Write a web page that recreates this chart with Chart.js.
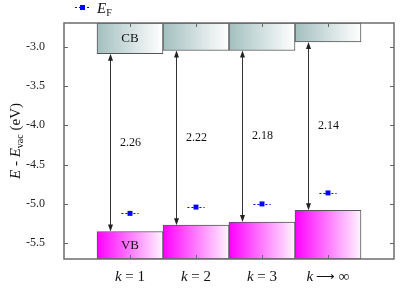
<!DOCTYPE html>
<html>
<head>
<meta charset="utf-8">
<script src="https://cdn.jsdelivr.net/npm/chart.js@4.4.0/dist/chart.umd.min.js"></script>
<style>
  html, body { margin: 0; padding: 0; background: #fff; }
  #wrap { width: 415px; height: 292px; position: relative; }
  #fontProbe { position: absolute; left: -999px; top: 0; font-family: "Liberation Serif"; }
</style>
</head>
<body>
<span id="fontProbe">E <i>k</i> 0123</span>
<div id="wrap"><canvas id="bandChart"></canvas></div>
<script>
// ==========================================
// DATA
// ==========================================
const kLabels = ["1", "2", "3", "\u221E"];
const kPositions = [1, 2, 3, 4];
const cbEdge = [-3.09, -3.05, -3.05, -2.94];
const vbEdge = [-5.35, -5.27, -5.23, -5.08];
const gapLabels = ["2.26", "2.22", "2.18", "2.14"];
const fermiLevel = [-5.12, -5.04, -5.0, -4.86];
const yTickValues = [-5.5, -5.0, -4.5, -4.0, -3.5, -3.0];

const Y_MIN = -5.7;
const Y_MAX = -2.7;
const SERIF = '"Liberation Serif", "Times New Roman", serif';
const FERMI_BLUE = "#0000ff";

// ==========================================
// HELPERS
// ==========================================
function boxGradient(ctx, leftColor, rightColor) {
  const chart = ctx.chart;
  if (!chart.chartArea || ctx.dataIndex === undefined) return leftColor;
  const xs = chart.scales.x;
  const xv = kPositions[ctx.dataIndex];
  const x0 = xs.getPixelForValue(xv - 0.5);
  const x1 = xs.getPixelForValue(xv + 0.5);
  const g = chart.ctx.createLinearGradient(x0, 0, x1, 0);
  g.addColorStop(0, leftColor);
  g.addColorStop(1, rightColor);
  return g;
}

// draw a run of [text, font, dy] pieces starting at x
function drawPieces(c, pieces, x, y) {
  pieces.forEach((p) => {
    c.font = p[1];
    c.fillText(p[0], x, y + (p[2] || 0));
    x += c.measureText(p[0]).width;
  });
}
function piecesWidth(c, pieces) {
  let w = 0;
  pieces.forEach((p) => {
    c.font = p[1];
    w += c.measureText(p[0]).width;
  });
  return w;
}

// ==========================================
// PLUGIN: arrows, labels, frame, ticks
// ==========================================
const bandPlugin = {
  id: "bandPlugin",
  beforeDatasetsDraw(chart) {
    const c = chart.ctx;
    const xs = chart.scales.x;
    const ys = chart.scales.y;
    // Fermi level horizontal dotted bars
    c.save();
    c.strokeStyle = FERMI_BLUE;
    c.lineWidth = 1;
    c.setLineDash([2, 2]);
    kPositions.forEach((x, i) => {
      const py = Math.round(ys.getPixelForValue(fermiLevel[i])) + 0.5;
      c.beginPath();
      c.moveTo(xs.getPixelForValue(x - 0.13), py);
      c.lineTo(xs.getPixelForValue(x + 0.13), py);
      c.stroke();
    });
    c.restore();
  },
  afterDatasetsDraw(chart) {
    const c = chart.ctx;
    const xs = chart.scales.x;
    const ys = chart.scales.y;
    c.save();
    // gap arrows
    kPositions.forEach((x, i) => {
      const ax = Math.round(xs.getPixelForValue(x - 0.3)) + 0.5;
      const yTop = ys.getPixelForValue(cbEdge[i]);
      const yBot = ys.getPixelForValue(vbEdge[i]);
      c.strokeStyle = "#333";
      c.fillStyle = "#222";
      c.lineWidth = 1;
      c.beginPath();
      c.moveTo(ax, yTop + 4);
      c.lineTo(ax, yBot - 4);
      c.stroke();
      c.beginPath();
      c.moveTo(ax, yTop);
      c.lineTo(ax - 2.5, yTop + 7);
      c.lineTo(ax + 2.5, yTop + 7);
      c.closePath();
      c.fill();
      c.beginPath();
      c.moveTo(ax, yBot);
      c.lineTo(ax - 2.5, yBot - 7);
      c.lineTo(ax + 2.5, yBot - 7);
      c.closePath();
      c.fill();
      // gap value
      c.fillStyle = "#111";
      c.font = "12px " + SERIF;
      c.textAlign = "left";
      c.textBaseline = "middle";
      c.fillText(gapLabels[i], ax + 9.5, ys.getPixelForValue((cbEdge[i] + vbEdge[i]) / 2));
    });
    // CB / VB tags in first column
    c.fillStyle = "#111";
    c.font = "13px " + SERIF;
    c.textAlign = "center";
    c.textBaseline = "middle";
    const x1 = xs.getPixelForValue(kPositions[0]);
    c.fillText("CB", x1, (ys.getPixelForValue(Y_MAX) + ys.getPixelForValue(cbEdge[0])) / 2);
    c.fillText("VB", x1, (ys.getPixelForValue(Y_MIN) + ys.getPixelForValue(vbEdge[0])) / 2);
    c.restore();
  },
  afterDraw(chart) {
    const c = chart.ctx;
    const a = chart.chartArea;
    const xs = chart.scales.x;
    const ys = chart.scales.y;
    c.save();
    // frame
    c.strokeStyle = "#6c6c6c";
    c.lineWidth = 1.5;
    c.strokeRect(a.left, a.top, a.right - a.left, a.bottom - a.top);
    // inward ticks
    c.lineWidth = 1;
    c.strokeStyle = "#666";
    yTickValues.forEach((v) => {
      const py = Math.round(ys.getPixelForValue(v)) + 0.5;
      c.beginPath();
      c.moveTo(a.left, py);
      c.lineTo(a.left + 4, py);
      c.moveTo(a.right, py);
      c.lineTo(a.right - 4, py);
      c.stroke();
    });
    kPositions.forEach((v) => {
      const px = Math.round(xs.getPixelForValue(v)) + 0.5;
      c.beginPath();
      c.moveTo(px, a.bottom);
      c.lineTo(px, a.bottom - 4);
      c.moveTo(px, a.top);
      c.lineTo(px, a.top + 4);
      c.stroke();
    });

    // x category labels: k = n
    c.fillStyle = "#111";
    c.textAlign = "left";
    c.textBaseline = "alphabetic";
    kPositions.forEach((v, i) => {
      const sep = kLabels[i] === "\u221E" ? " \u27F6 " : " = ";
      const pieces = [
        ["k", "italic 15px " + SERIF],
        [sep, (kLabels[i] === "\u221E" ? "13px " : "15px ") + SERIF],
        [kLabels[i], "15px " + SERIF],
      ];
      const w = piecesWidth(c, pieces);
      drawPieces(c, pieces, xs.getPixelForValue(v) - w / 2, a.bottom + 22);
    });

    // y axis title
    c.save();
    c.translate(20, (a.top + a.bottom) / 2);
    c.rotate(-Math.PI / 2);
    const title = [
      ["E", "italic 15px " + SERIF],
      [" - ", "15px " + SERIF],
      ["E", "italic 15px " + SERIF],
      ["vac", "10px " + SERIF, 3],
      [" (eV)", "15px " + SERIF],
    ];
    drawPieces(c, title, -piecesWidth(c, title) / 2, 0);
    c.restore();

    // legend
    c.strokeStyle = FERMI_BLUE;
    c.fillStyle = FERMI_BLUE;
    c.setLineDash([2, 2]);
    c.beginPath();
    c.moveTo(75, 7.5);
    c.lineTo(91, 7.5);
    c.stroke();
    c.setLineDash([]);
    c.fillRect(80, 5, 5, 5);
    c.fillStyle = "#111";
    drawPieces(c, [["E", "italic 15px " + SERIF], ["F", "10px " + SERIF, 3]], 97, 13);
    c.restore();
  },
};

// ==========================================
// CHART
// ==========================================
function initChart() {
  const ctx = document.getElementById("bandChart");

  new Chart(ctx.getContext("2d"), {
    type: "bar",
    data: {
      datasets: [
        {
          type: "scatter",
          label: "E_F",
          data: kPositions.map((x, i) => ({ x: x, y: fermiLevel[i] })),
          pointStyle: "rect",
          pointRadius: 3.5,
          backgroundColor: FERMI_BLUE,
          borderColor: FERMI_BLUE,
          borderWidth: 0,
        },
        {
          label: "CB",
          data: kPositions.map((x, i) => ({ x: x, y: [cbEdge[i], Y_MAX] })),
          backgroundColor: (c) => boxGradient(c, "#a3bfbf", "#ffffff"),
          borderColor: "#555",
          borderWidth: 1,
          borderSkipped: false,
          grouped: false,
          barPercentage: 1,
          categoryPercentage: 1,
        },
        {
          label: "VB",
          data: kPositions.map((x, i) => ({ x: x, y: [Y_MIN, vbEdge[i]] })),
          backgroundColor: (c) => boxGradient(c, "#ff00ff", "#fff4ff"),
          borderColor: "#555",
          borderWidth: 1,
          borderSkipped: false,
          grouped: false,
          barPercentage: 1,
          categoryPercentage: 1,
        },
      ],
    },
    options: {
      responsive: true,
      maintainAspectRatio: false,
      animation: false,
      layout: { padding: { left: 0, right: 21, top: 23, bottom: 33 } },
      plugins: {
        legend: { display: false },
        tooltip: { enabled: false },
      },
      scales: {
        x: {
          type: "linear",
          min: 0,
          max: 5,
          offset: false,
          grid: { display: false, offset: false },
          border: { display: false },
          ticks: { display: false },
          afterBuildTicks: (scale) => {
            scale.ticks = kPositions.map((v) => ({ value: v }));
          },
          afterFit: (scale) => {
            scale.height = 0;
          },
        },
        y: {
          min: Y_MIN,
          max: Y_MAX,
          grid: { display: false },
          border: { display: false },
          afterBuildTicks: (scale) => {
            scale.ticks = yTickValues.map((v) => ({ value: v }));
          },
          ticks: {
            padding: 11,
            color: "#222",
            font: { family: SERIF, size: 12 },
            callback: (v) => Number(v).toFixed(1),
          },
          afterFit: (scale) => {
            scale.width = 64;
          },
        },
      },
    },
    plugins: [bandPlugin],
  });
}

document.addEventListener("DOMContentLoaded", function () {
  Promise.all([
    document.fonts.load('15px "Liberation Serif"'),
    document.fonts.load('italic 15px "Liberation Serif"'),
  ])
    .catch(() => null)
    .then(initChart);
});
</script>
</body>
</html>
